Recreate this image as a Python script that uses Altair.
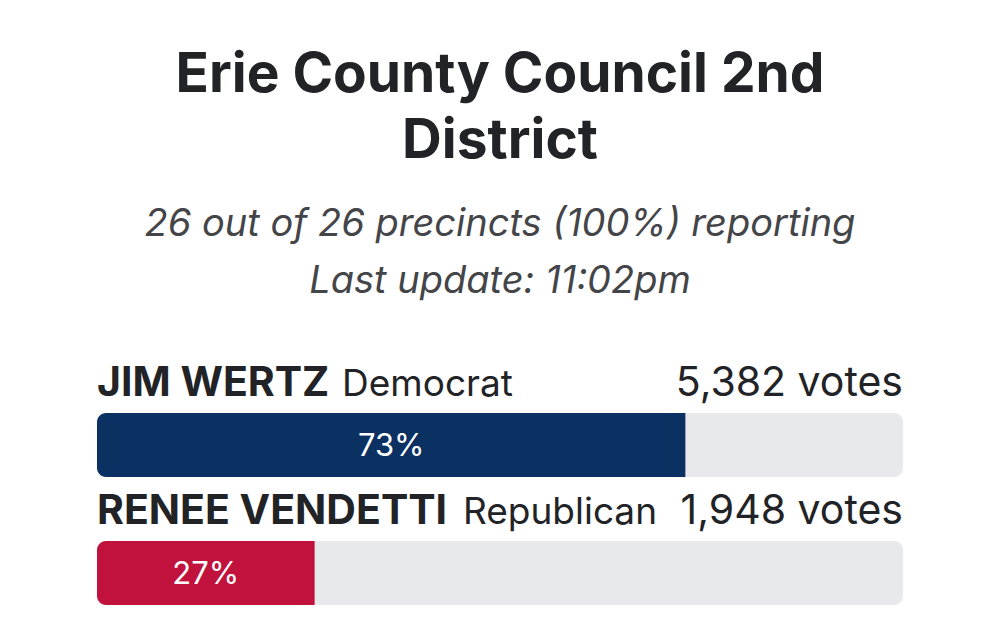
import altair as alt
import pandas as pd

# Race results
title_lines = ["Erie County Council 2nd", "District"]
subtitle_lines = ["26 out of 26 precincts (100%) reporting", "Last update: 11:02pm"]
candidates = ["JIM WERTZ", "RENEE VENDETTI"]
parties = ["Democrat", "Republican"]
votes = [5382, 1948]
shares = [73, 27]
party_colors = ["#0b3163", "#c0123c"]

FONT = "Inter"
INK = "#222326"

df = pd.DataFrame({
    "candidate": candidates,
    "party": parties,
    "votes": votes,
    "share": shares,
    "color": party_colors,
})
df["slot"] = range(len(df))
df["top"] = df["slot"] - 0.25
df["bottom"] = df["slot"] + 0.25
df["votes_label"] = df["votes"].map(lambda v: f"{v:,} votes")
df["share_label"] = df["share"].map(lambda s: f"{s}%")
df["full"] = 100
df["zero"] = 0
df["mid"] = df["share"] / 2
# where the party name starts, just past the bold candidate name
df["party_x"] = df["candidate"].map({"JIM WERTZ": 30.4, "RENEE VENDETTI": 45.4})

xs = alt.Scale(domain=[0, 100], range=[97, 903])
# one unit per candidate row: 128 px, bar centres at 445 and 573
ys = alt.Scale(domain=[0, 1], range=[445, 573], nice=False, zero=False)

base = alt.Chart(df)
Y = alt.Y("slot:Q", scale=ys, axis=None)


def X(field):
    return alt.X(field, type="quantitative", scale=xs, axis=None)


track = base.mark_bar(color="#e7e9ec", cornerRadius=9).encode(
    x=X("zero"), x2="full:Q",
    y=alt.Y("top:Q", scale=ys, axis=None), y2="bottom:Q",
)
fill = base.mark_bar(cornerRadiusTopLeft=9, cornerRadiusBottomLeft=9).encode(
    x=X("zero"), x2="share:Q",
    y=alt.Y("top:Q", scale=ys, axis=None), y2="bottom:Q",
    color=alt.Color("color:N", scale=None),
)
pct = base.mark_text(font=FONT, fontSize=31, color="white", baseline="alphabetic", dy=11).encode(
    x=X("mid"), y=Y, text="share_label:N"
)
name = base.mark_text(font=FONT, fontSize=41, fontWeight="bold", color=INK,
                      align="left", baseline="alphabetic", dy=-49).encode(
    x=X("zero"), y=Y, text="candidate:N"
)
party = base.mark_text(font=FONT, fontSize=37, color=INK,
                       align="left", baseline="alphabetic", dy=-49).encode(
    x=X("party_x"), y=Y, text="party:N"
)
vote_txt = base.mark_text(font=FONT, fontSize=41, color=INK,
                          align="right", baseline="alphabetic", dy=-49).encode(
    x=X("full"), y=Y, text="votes_label:N"
)

head_df = pd.DataFrame({"line": title_lines, "row": [0, 1]})
head = alt.Chart(head_df).mark_text(
    font=FONT, fontSize=55, fontWeight="bold", color=INK, baseline="alphabetic"
).encode(
    x=alt.value(500),
    y=alt.Y("row:Q", scale=alt.Scale(domain=[0, 1], range=[92, 158], nice=False, zero=False), axis=None),
    text="line:N",
)
sub_df = pd.DataFrame({"line": subtitle_lines, "row": [0, 1]})
sub = alt.Chart(sub_df).mark_text(
    font=FONT, fontSize=38, fontStyle="italic", color="#444548", baseline="alphabetic"
).encode(
    x=alt.value(500),
    y=alt.Y("row:Q", scale=alt.Scale(domain=[0, 1], range=[236, 293], nice=False, zero=False), axis=None),
    text="line:N",
)

chart = alt.layer(track, fill, pct, name, party, vote_txt, head, sub).resolve_scale(
    y="independent"
).properties(
    width=1000, height=643, padding=0, autosize=alt.AutoSizeParams(type="none"),
    background="white",
).configure_view(stroke=None)

chart.save("out.html", embed_options={"renderer": "svg", "actions": False})
